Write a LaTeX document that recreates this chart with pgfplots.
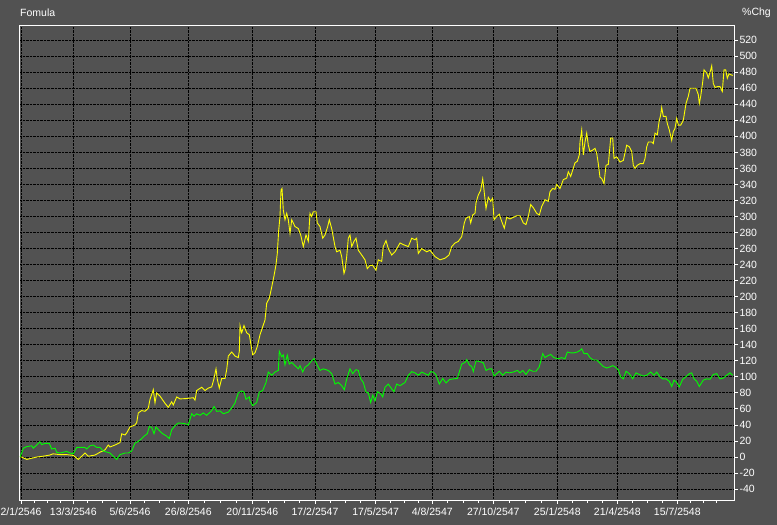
\documentclass[border=0pt]{standalone}
\usepackage{fontspec}
\setmainfont{Liberation Sans}
\usepackage{pgfplots}
\pgfplotsset{compat=1.18}
\definecolor{bg}{RGB}{82,82,82}
\definecolor{yel}{RGB}{255,255,0}
\definecolor{grn}{RGB}{0,255,0}
\begin{document}
\begin{tikzpicture}
\useasboundingbox (0,0) rectangle (777bp,525bp);
\fill[bg] (0,0) rectangle (777bp,525bp);
\node[anchor=west,text=white,font=\fontsize{10.5bp}{12bp}\selectfont,inner sep=0pt] at (20bp,512bp) {Fomula};
\node[anchor=west,text=white,font=\fontsize{10.5bp}{12bp}\selectfont,inner sep=0pt] at (742bp,512bp) {\%Chg};
\begin{axis}[
  at={(20bp,25bp)}, anchor=south west,
  scale only axis, width=714bp, height=474bp,
  xmin=20, xmax=734, ymin=-53.6, ymax=537.7,
  axis line style={white, line width=1bp},
  ytick={-40,-20,...,520},
  yticklabel pos=right, ytick pos=right, xtick pos=bottom,
  xtick={21,73.3,130,188.3,252.3,315,375.7,432.3,493.3,557.3,617.3,677.3},
  xticklabels={2/1/2546,13/3/2546,5/6/2546,26/8/2546,20/11/2546,17/2/2547,17/5/2547,4/8/2547,27/10/2547,25/1/2548,21/4/2548,15/7/2548},
  minor xtick={34,47.7,60.5,87.5,102,116,144.5,159,174,204,220,236,268,284,299.5,330,345.7,360.5,390,404,418,447.5,463,478,509,525,541,572.7,587.7,602.7,632.7,647.3,662.3,690,703.3,716.7},
  grid=major,
  major grid style={black, densely dotted, line width=0.9bp},
  tick style={white, line width=0.9bp},
  tick align=outside, major tick length=3.5bp, minor tick length=2.5bp,
  ticklabel style={text=white, font=\fontsize{10.5bp}{12bp}\selectfont},
  /pgf/number format/assume math mode=true,
  xticklabel style={yshift=-1bp},
  yticklabel style={xshift=-1.5bp},
  clip=true,
]
\addplot[yel, line width=0.9bp] coordinates {
(20,0)(21.7,0)(26.7,-3)(30,-2)(36.7,0)(43,1)(50,2.5)(53,4)(60,3)(66.7,3)(73.3,2)(78.3,-3)(81.7,1)(85,5)(88.3,1)(95,2.5)(100,6)(105,9)(108.3,15)(110,12.5)(115,15)(120,18)(121.7,29)(125,27.5)(126.7,30)(130,37.5)(135,40)(136.7,43)(138.3,55)(141.7,58)(145,57)(148.3,61)(150,72)(153.3,84)(155,67.5)(156.7,80)(160,76)(165,67)(168.3,62)(171.7,69)(173.3,65)(176.7,75)(180,72.5)(186.7,73)(193.3,74)(195,71)(196.7,83)(201.7,87)(205,83)(208.3,86)(211.7,87.5)(214,98)(216,110)(217.3,97)(219.3,86)(221.7,98)(225,98)(226.7,109)(228.3,126)(231.7,131)(235,126)(238.3,124)(239.3,132)(240,164)(241.7,155)(244,164)(246.7,155)(249.3,152.5)(252.7,127.5)(255,130)(257.3,138)(260,152.5)
(265,171)(266.7,192)(269.3,198)(271.7,212)(274,226)(276,240)(277.3,254)(278.7,283)(280,300)(281,333)(282,335)(283.3,308)(285,296)(286.7,304)(288.3,296)(290,279)(291.7,296)(295,287.5)(298.3,285)(300.7,277)(303.3,262.5)(306,277)(308.3,269)(310,304)(311.7,300)(313.3,306)(316,306)(317.3,292)(320,287.5)(322.7,273)(325,277)(327.7,287.5)(329.3,296)(331.7,285)(335,262.5)(336.7,256)(340,258)(341.7,250)(344,229)(345,233)(346.7,250)(348.3,273)(350,277)(351.7,262.5)(354,269)(356,273)(358.3,258)(361.7,252)(365,246)(367.3,235)(370,239)(372.7,239)(376,233)(378.3,246)(381.7,244)(383.3,262.5)(386,270)(388.3,260)(391.7,252)(395,256)(400,267)(403.3,265)(408.3,262.5)(411.7,273)(415,271)(416.7,273)(418.3,254)(421.7,260)(426.7,256)(430,258)(435,250)(440,246)(445,248)(449,252)
(451.7,262.5)(455,267)(458.3,269)(461.7,275)(464.3,292)(466,298)(469.3,300)(470.7,292)(472.7,302)(475,304)(476,317)(478.3,327)(480.7,333)(482.7,347)(484,333)(486,310)(488.3,324)(490.7,319)(492.7,323)(494,296)(496.7,300)(499.3,303)(501.7,294)(504.3,285.5)(506.7,299)(510,297)(513.3,299)(516.7,301)(520,301)(523.3,292)(526,290)(528.3,300)(530.7,315)(533.3,311)(536.7,304)(539.3,302)(541.7,312.5)(545,321)(548.3,319)(550,331)(552.7,335)(555,334)(556.7,340)(560,335)(563.3,346)(566.7,348)(568.3,356)(570.7,350)(572.7,358)(575,367)(577.3,369)(579.3,377)
(580,393)(581.7,408)(583.3,377)(585,393)(586.7,404)(588.3,389)(590,381)(592.7,383)(595,385)(596.7,379)(598.3,366)(600,349)(601.7,347.5)(604,341)(606,364)(608.3,365)(610.7,398)(612.7,398)(614,372.5)(616.7,374.5)(620,368)(623.3,370)(626.7,389)(629.3,387)(631.7,381)(633.3,364)(635,360)(637.3,364)(640,366)(643.3,366)(645,372.5)(646.7,387)(648.3,393)(651.7,393)(653.3,391)(655,404)(657.3,402)(659,418)(660.7,427)(661.7,436)(663.3,425)(666,425)(667.3,416)(669.3,408)(671.7,395)(673.3,406)(675,410)(676.7,422.5)(678.3,414)(680.7,414)(683.3,420)(686,441)(688.3,450)(690,460)(693.3,460)(696,460)(698.3,452)(699.3,441)(700.7,450)(702.7,468)(704,483)(706.7,479)(708.3,473)(710.7,483)(711.7,488)(713.3,466)(715,461)(717.3,462)(720,462)(722.3,456)(724,483)(725.7,483)(727.3,472.5)(729,478)(730.7,477)(732.7,476)
};
\addplot[grn, line width=0.9bp] coordinates {
(20,0)(21.7,5)(23.3,11)(26.7,13)(31.7,14)(33.3,11)(36.7,15)(40,19)(41.7,15.5)(45,17)(49.3,17)(51.7,10)(55,11)(56.7,6)(60,5)(66.7,7)(70,5)(73.3,4)(76.7,12)(81.7,12)(85,12)(86.7,10)(90,14)(93.3,15)(96.7,12)(100,12)(103.3,7.5)(110,5)(113.3,1)(116.7,-3)(120,3)(125,5)(128.3,5)(131.7,7.5)(135,17.5)(138.3,19.5)(141.7,23)(144,26)(147.3,29)(149.3,38)(151.7,37)(154,29)(156,37.5)(159.3,33)(162.7,29)(166.7,26)(169.3,23)(171.7,34)(175,39)(178.3,42.5)(183.3,42)(186.7,41)(188.3,40)(191.7,54)(194,51)(196.7,54)(200,52)(203.3,55)(206.7,52)(211.7,58)(214,63)(216.7,57)(220,57.5)(223.3,54)(228.3,56)(231.7,61)(235,67.5)(238.3,80)(241.7,82.5)(244,81)(246,72)(249.3,75)
(250,70)(252.7,64)(256.7,68)(259.3,81)(262.7,83)(266,93)(268.3,106)(271.7,102)(275,106)(278.3,108)(279.3,132)(281.7,125)(283.3,127.5)(285,115)(287.3,127)(289.3,116)(291.7,118)(295,114)(298.3,110)(300,114)(302.7,106)(305,112)(308.3,115)(311.7,120)(314,123)(316.7,116)(320,108)(323.3,110)(328.3,108)(331.7,104)(335,91)(338.3,93)(341.7,89)(344.3,84)(346.7,97.5)(350,110)(352.7,104)(356,109)(358.3,108)(360.7,97.5)(363.3,93)(366,81)(368.3,80)(370.7,68)(372.7,77)(375,70)(377.3,81.5)(380.7,79)(382.7,75)(385,87)(388.3,91)(391.7,85)(394,81.5)(396.7,91)(400,89)(405,93)(408.3,102)(411.7,106.5)(415,105)(418.3,102)(421.7,106)(425,104)(428.3,102)(430.7,106.5)(433.3,106)(436,102.5)(439.3,91)(442.7,98)(446,92.5)(449.3,96.5)(453.3,97.5)(457.3,98)(459.3,106)(461.7,116)(465,118)(466.7,121.5)(469.3,115)(471.7,113)(473.3,106.5)(476,120)(480,119)(483.3,117.5)(486,108)(489.3,110)
(491.7,110)(494,101)(496.7,104)(499.3,107)(502.7,102)(506,106)(509.3,105)(513.3,106)(517.3,108)(520,105)(522.7,108)(526,103)(529.3,109)(532.7,107)(536,107)(539.3,112.5)(540.7,119.5)(542.7,129)(545,124)(547.3,126)(550.7,128)(554,124)(558.3,122.5)(561.7,124)(565,122.5)(567.3,131)(570.7,130)(574,130)(577.3,131)(580,133)(581.7,135)(584,129)(587.3,129)(590,124)(593.3,121)(596.7,121)(600,117)(603.3,113)(606.7,111)(610,112.5)(612.7,114)(615,112.5)(618.3,109)(620.7,100)(623.3,97.5)(626,107)(629.3,104)(632.7,97.5)(636,105)(639.3,103)(643.3,101)(646.7,102)(650.7,106)(654,102)(656.7,106)(660,100)(662.7,97.5)(666,97.5)(669.3,94.5)(671.7,88)(674,96)(676.7,93)(679.3,87.5)(682.7,97)(686.7,101)(689.3,104)(691.7,105)(694,97.5)(696.7,94.5)(699.3,88)(703.3,96)(706.7,97.5)(710,97)(713.3,103)(716.7,104)(720,97.5)(723.3,98.5)(726.7,102)(730,105)(732.7,102)
};
\end{axis}
\end{tikzpicture}
\end{document}
